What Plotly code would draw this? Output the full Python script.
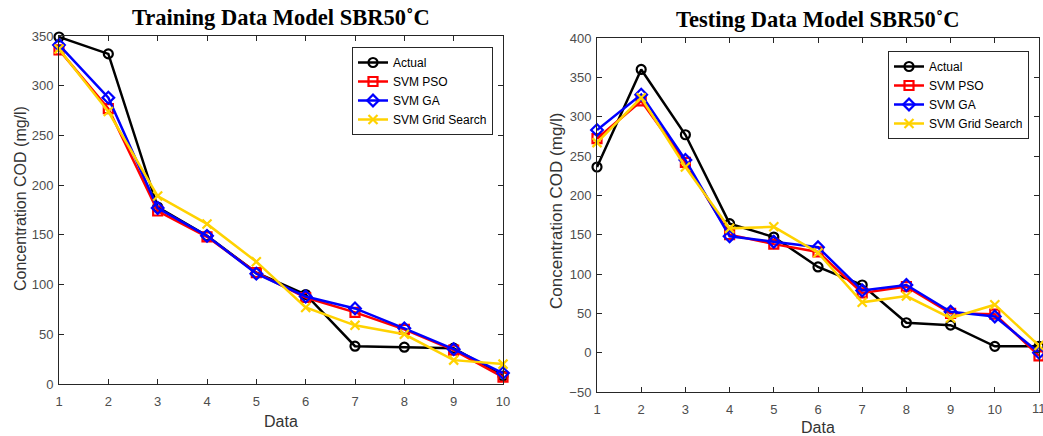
import plotly.graph_objects as go

train_x = [1, 2, 3, 4, 5, 6, 7, 8, 9, 10]
train_actual = [349, 332, 178, 149, 112, 90, 38, 37, 36, 8]
train_pso = [336, 277, 174, 148, 112, 87, 72, 55, 34, 7]
train_ga = [341, 288, 177, 149, 111, 88, 76, 56, 35, 11]
train_grid = [337, 274, 189, 161, 123, 77, 59, 50, 24, 20]

test_x = [1, 2, 3, 4, 5, 6, 7, 8, 9, 10, 11]
test_actual = [236, 360, 277, 164, 147, 109, 86, 38, 35, 8, 8]
test_pso = [272, 320, 242, 150, 138, 128, 76, 84, 50, 49, -4]
test_ga = [283, 328, 245, 148, 141, 134, 79, 86, 52, 46, 0]
test_grid = [267, 324, 236, 158, 160, 127, 64, 72, 44, 61, 9]

names = ["Actual", "SVM PSO", "SVM GA", "SVM Grid Search"]
colors = ["#000000", "#FF0000", "#0000FF", "#FFD200"]
symbols = ["circle-open", "square-open", "diamond-open", "x-thin-open"]

WW, HH = 1043, 436
L, R, T, B = 50, 3, 30, 40
IW, IH = WW - L - R, HH - T - B

def px(xp):
    return (xp - L) / IW

def py(yp):
    return (HH - yp - B) / IH

fig = go.Figure()

def add_series(x, ys, xa, ya, legend):
    for name, y, c, s in zip(names, ys, colors, symbols):
        fig.add_trace(go.Scatter(
            x=x, y=y, name=name, mode="lines+markers",
            line=dict(color=c, width=2.5),
            marker=dict(symbol=s, size=9, color=c, line=dict(color=c, width=2.2)),
            xaxis=xa, yaxis=ya, legend=legend, cliponaxis=False,
        ))

add_series(train_x, [train_actual, train_pso, train_ga, train_grid], "x", "y", "legend")
add_series(test_x, [test_actual, test_pso, test_ga, test_grid], "x2", "y2", "legend2")

axis_common = dict(
    showgrid=False, zeroline=False, showline=True, linecolor="#262626", linewidth=1,
    mirror="ticks", ticks="inside", ticklen=5, tickcolor="#262626", automargin=False,
    tickfont=dict(family="Liberation Sans, Arial", size=13, color="#4d4d4d"),
)
xaxis_extra = dict(ticklabelstandoff=5)
yaxis_extra = dict(ticklabelstandoff=2)

fig.update_layout(
    width=WW, height=HH,
    margin=dict(l=L, r=R, t=T, b=B),
    paper_bgcolor="white", plot_bgcolor="white",
    showlegend=True,
    xaxis=dict(domain=[px(59), px(503)], range=[1, 10], tickvals=train_x, anchor="y", **axis_common, **xaxis_extra),
    yaxis=dict(domain=[py(384), py(36)], range=[0, 350], tickvals=[0, 50, 100, 150, 200, 250, 300, 350], anchor="x", **axis_common, **yaxis_extra),
    xaxis2=dict(domain=[px(597), px(1039)], range=[1, 11], tickvals=test_x, anchor="y2", **axis_common, **xaxis_extra),
    yaxis2=dict(domain=[py(392), py(38)], range=[-50, 400], tickvals=[-50, 0, 50, 100, 150, 200, 250, 300, 350, 400], anchor="x2", **axis_common, **yaxis_extra),
    legend=dict(x=px(352), y=py(47), xanchor="left", yanchor="top",
                bgcolor="white", bordercolor="#262626", borderwidth=1,
                font=dict(family="Liberation Sans, Arial", size=12, color="#000000"),
                tracegroupgap=0, itemwidth=30),
    legend2=dict(x=px(888), y=py(51), xanchor="left", yanchor="top",
                 bgcolor="white", bordercolor="#262626", borderwidth=1,
                 font=dict(family="Liberation Sans, Arial", size=12, color="#000000"),
                 tracegroupgap=0, itemwidth=30),
)

title_font = dict(family="Liberation Serif, Times New Roman", size=22.5, color="#000000")

def label_font(size):
    return dict(family="Liberation Sans, Arial", size=size, color="#333333")

def ann(text, xp, yp, font, angle=0):
    fig.add_annotation(text=text, x=px(xp), y=py(yp), xref="paper", yref="paper",
                       xanchor="center", yanchor="middle",
                       showarrow=False, textangle=angle, font=font)

ann("<b>Training Data Model SBR50˚C</b>", 281, 17, title_font)
ann("<b>Testing Data Model SBR50˚C</b>", 818, 20, title_font)
ann("Data", 281, 421, label_font(16))
ann("Data", 818, 427, label_font(16))
ann("Concentration COD (mg/l)", 21, 199, label_font(16), -90)
ann("Concentration COD (mg/l)", 556, 211, label_font(17), -90)

# last x tick label of the testing panel (partly outside the page, as in the original)
fig.add_annotation(text=str(test_x[-1]), x=test_x[-1], xref="x2", y=py(408), yref="paper",
                   xanchor="center", yanchor="middle", showarrow=False,
                   font=dict(family="Liberation Sans, Arial", size=13, color="#4d4d4d"))

fig.write_html("out.html",
               config={"displayModeBar": False},
               post_script="document.body.style.margin='0';document.body.style.overflow='hidden';")
